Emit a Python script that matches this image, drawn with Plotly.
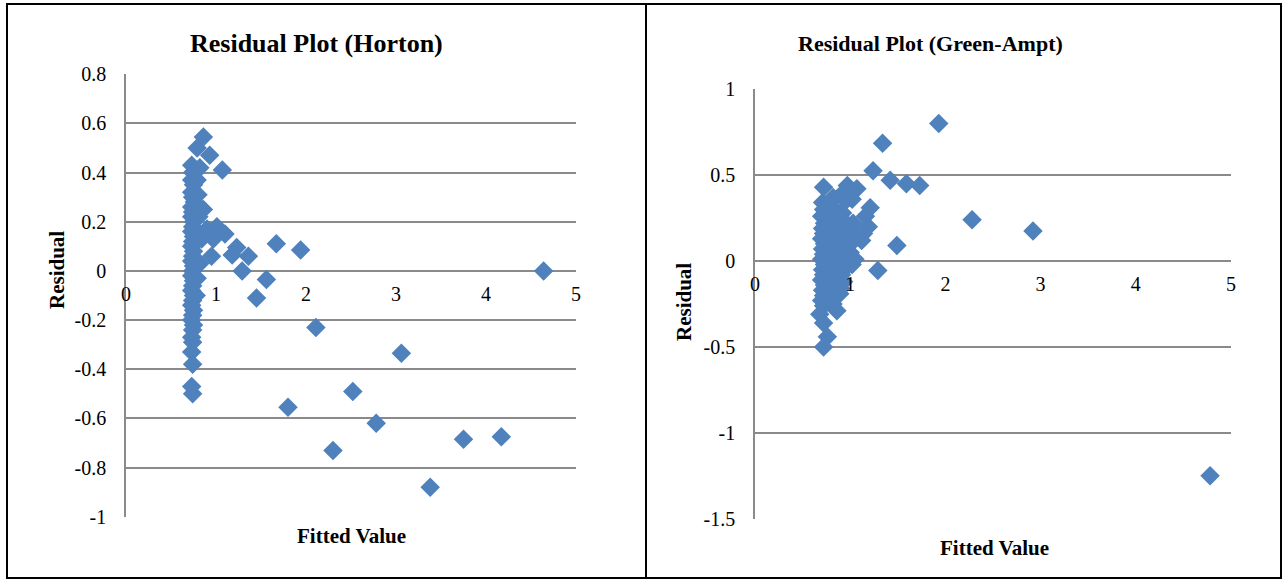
import plotly.graph_objects as go

W, H = 1283, 582

# Horton model: fitted value vs residual
horton_fitted = [
    0.73, 0.74, 0.73, 0.75, 0.73, 0.74, 0.76, 0.73, 0.74, 0.73, 0.75, 0.74, 0.73,
    0.75, 0.74, 0.73, 0.75, 0.74, 0.73, 0.75, 0.74, 0.73, 0.75, 0.74, 0.73, 0.75,
    0.74, 0.73, 0.75, 0.74, 0.73, 0.75, 0.74, 0.73, 0.74, 0.73, 0.74, 0.73, 0.74,
    0.79, 0.86, 0.93, 1.07, 0.82, 0.79, 0.80, 0.86, 0.81, 0.79, 0.84, 0.90, 1.01,
    1.10, 0.97, 1.23, 1.18, 0.95, 1.36, 1.29, 0.82, 0.79, 0.78, 0.79,
    1.67, 1.94, 1.56, 1.45, 2.11, 1.80, 2.52, 2.30, 2.78, 3.06, 3.38, 3.75, 4.17, 4.64,
]
horton_resid = [
    0.43, 0.40, 0.37, 0.35, 0.32, 0.30, 0.28, 0.26, 0.24, 0.22, 0.20, 0.18, 0.16,
    0.14, 0.12, 0.10, 0.08, 0.06, 0.04, 0.02, 0.00, -0.02, -0.04, -0.06, -0.08, -0.10,
    -0.12, -0.14, -0.16, -0.18, -0.20, -0.22, -0.24, -0.27, -0.29, -0.33, -0.38, -0.47, -0.50,
    0.50, 0.545, 0.47, 0.41, 0.42, 0.37, 0.31, 0.25, 0.22, 0.15, 0.13, 0.17, 0.18,
    0.15, 0.13, 0.095, 0.065, 0.06, 0.06, 0.00, 0.03, -0.03, -0.10, 0.26,
    0.11, 0.085, -0.035, -0.11, -0.23, -0.555, -0.49, -0.73, -0.62, -0.335, -0.88, -0.685, -0.675, 0.00,
]

# Green-Ampt model
ga_fitted = [
    0.72, 0.71, 0.72, 0.70, 0.73, 0.71, 0.72, 0.70, 0.73, 0.71, 0.72, 0.70, 0.73,
    0.71, 0.72, 0.70, 0.73, 0.71, 0.72, 0.70, 0.72, 0.68, 0.72, 0.76, 0.72,
    0.82, 0.80, 0.84, 0.81, 0.85, 0.80, 0.83, 0.86, 0.81, 0.84, 0.80, 0.85, 0.82,
    0.84, 0.80, 0.82, 0.86,
    0.97, 0.93, 0.95, 0.92, 0.96, 0.93, 0.95, 0.92, 0.96, 0.93, 0.95, 0.91, 0.93,
    0.90, 0.89,
    1.07, 1.02, 1.03, 1.06, 1.02, 1.00, 1.05, 1.02,
    1.21, 1.16, 1.19, 1.14, 1.12,
    1.24, 1.34, 1.42, 1.59, 1.73, 1.93, 1.49, 1.29, 2.28, 2.92, 4.78,
]
ga_resid = [
    0.43, 0.34, 0.30, 0.26, 0.22, 0.19, 0.16, 0.13, 0.10, 0.07, 0.04, 0.01, -0.02,
    -0.05, -0.08, -0.11, -0.14, -0.17, -0.20, -0.23, -0.26, -0.31, -0.36, -0.44, -0.50,
    0.37, 0.32, 0.27, 0.23, 0.19, 0.15, 0.11, 0.07, 0.03, -0.01, -0.05, -0.09, -0.13,
    -0.17, -0.21, -0.25, -0.29,
    0.44, 0.40, 0.35, 0.28, 0.22, 0.17, 0.12, 0.08, 0.04, 0.00, -0.04, -0.08, -0.12,
    -0.16, -0.19,
    0.42, 0.36, 0.22, 0.16, 0.11, 0.05, 0.01, -0.02,
    0.31, 0.26, 0.20, 0.16, 0.12,
    0.525, 0.685, 0.47, 0.45, 0.44, 0.80, 0.09, -0.055, 0.24, 0.175, -1.25,
]

x_ticks = [0, 1, 2, 3, 4, 5]
x_ticktext = ["0", "1", "2", "3", "4", "5"]
horton_yticks = [0.8, 0.6, 0.4, 0.2, 0, -0.2, -0.4, -0.6, -0.8, -1]
horton_yticktext = ["0.8", "0.6", "0.4", "0.2", "0", "-0.2", "-0.4", "-0.6", "-0.8", "-1"]
ga_yticks = [1, 0.5, 0, -0.5, -1, -1.5]
ga_yticktext = ["1", "0.5", "0", "-0.5", "-1", "-1.5"]


def px(x):
    return x / W


def py(y):
    return 1 - y / H


serif = "Liberation Serif, Times New Roman, serif"
grid = "#8A8A8A"
blue = "#4F81BD"

fig = go.Figure()
fig.add_trace(go.Scatter(x=horton_fitted, y=horton_resid, mode="markers",
                         marker=dict(symbol="diamond", size=15, color=blue),
                         xaxis="x", yaxis="y", hoverinfo="skip"))
fig.add_trace(go.Scatter(x=ga_fitted, y=ga_resid, mode="markers",
                         marker=dict(symbol="diamond", size=15, color=blue),
                         xaxis="x2", yaxis="y2", hoverinfo="skip"))

tickfont = dict(family=serif, size=20, color="black")

xcommon = dict(range=[0, 5], tickvals=x_ticks, ticktext=x_ticktext, showgrid=False,
               zeroline=False, showline=False, ticks="", tickfont=tickfont,
               anchor="free", ticklabelstandoff=9, automargin=False)
ycommon = dict(showgrid=True, gridcolor=grid, gridwidth=1.5, zeroline=False,
               showline=True, linecolor=grid, linewidth=1.5, ticks="",
               tickfont=tickfont, ticklabelstandoff=14, automargin=False)

fig.update_layout(
    width=W, height=H,
    margin=dict(l=0, r=0, t=0, b=0),
    paper_bgcolor="white", plot_bgcolor="white",
    showlegend=False,
    xaxis=dict(domain=[px(126), px(576)], position=py(270.5), **xcommon),
    yaxis=dict(domain=[py(517), py(74)], range=[-1.001, 0.801], anchor="x",
               tickvals=horton_yticks, ticktext=horton_yticktext, **ycommon),
    xaxis2=dict(domain=[px(755), px(1231)], position=py(261), **xcommon),
    yaxis2=dict(domain=[py(519), py(89)], range=[-1.501, 1.001], anchor="x2",
                tickvals=ga_yticks, ticktext=ga_yticktext, **ycommon),
)

# borders of the table cells
fig.add_shape(type="rect", xref="paper", yref="paper",
              x0=px(7), x1=px(1281), y0=py(578), y1=py(4),
              line=dict(color="black", width=2))
fig.add_shape(type="line", xref="paper", yref="paper",
              x0=px(646), x1=px(646), y0=py(578), y1=py(4),
              line=dict(color="black", width=2))

labelfont = dict(family=serif, size=21, color="black")
notes = [
    ("Residual Plot (Horton)", 316, 44, 0, dict(family=serif, size=26, color="black")),
    ("Residual Plot (Green-Ampt)", 930, 44, 0, dict(family=serif, size=22, color="black")),
    ("Fitted Value", 351, 536, 0, labelfont),
    ("Fitted Value", 994, 548, 0, labelfont),
    ("Residual", 57, 270, -90, labelfont),
    ("Residual", 684, 302, -90, labelfont),
]
for text, x, y, ang, f in notes:
    fig.add_annotation(text="<b>%s</b>" % text, x=px(x), y=py(y), xref="paper", yref="paper",
                       showarrow=False, xanchor="center", yanchor="middle",
                       textangle=ang, font=f)

# page body has a default 8px margin; drop it so the figure sits at the corner
fig.write_html("out.html", config={"displayModeBar": False},
               post_script="document.body.style.margin='0';")
